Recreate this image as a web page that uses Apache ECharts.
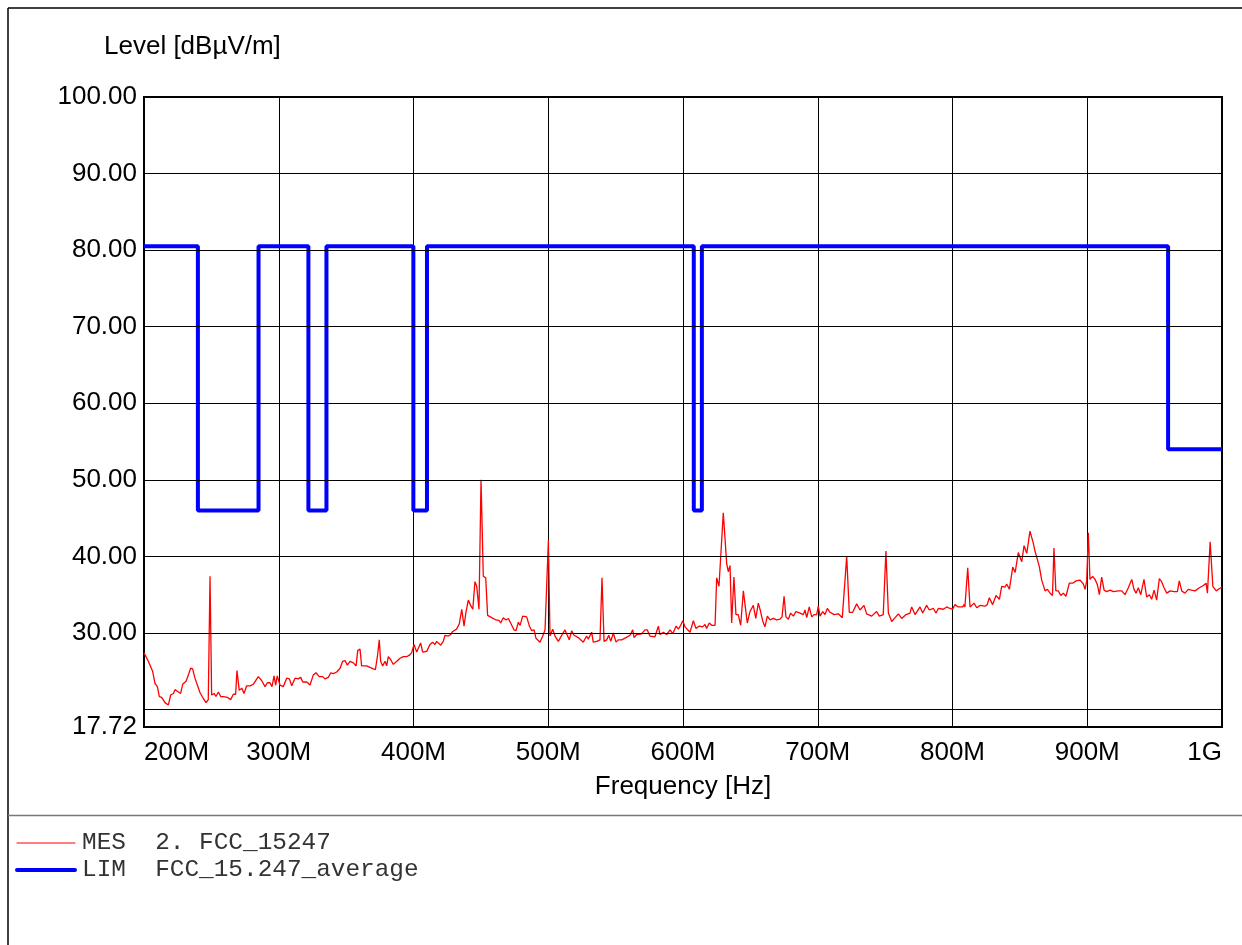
<!DOCTYPE html>
<html>
<head>
<meta charset="utf-8">
<script src="https://cdn.jsdelivr.net/npm/echarts@6/dist/echarts.min.js"></script>
<style>
html,body{margin:0;padding:0;background:#fff;}
#chart{width:1242px;height:945px;}
</style>
</head>
<body>
<div id="chart"></div>
<script>
// Measurement trace (MHz, dBµV/m)
const mesFreq = [200,203.2,206.4,208.2,209.9,211.4,213.1,215.6,218.1,219.8,221.8,223,224.7,227.2,228.7,231.2,232.9,234.6,236.1,237.8,239.6,241.6,243.5,246,247.7,249,250.2,252,253.4,255.2,256.9,258.9,261.8,264.3,266.3,268,269,270.7,272.5,274.2,276.2,278.7,281.1,284.8,287.3,289.8,291.5,293.5,295,296.5,297.7,298.9,300.9,303.4,305.9,307.9,309.6,312.1,314.5,316.3,317.8,320.8,323.2,325.6,327.6,330.1,332.6,334.3,336.8,338.6,340.6,343,345.5,347.4,349.2,350.9,352.9,355.4,357.4,358.6,360.3,361.5,363.2,365.2,367.7,370.2,371.7,373.2,374.6,375.6,377.1,378.9,380.1,381.3,383.1,385,387.6,390,392.4,394.9,396.9,398.6,400.4,
402.4,405.3,406.8,409.8,412.2,414.2,415.9,417.2,420.2,422.1,423.4,425.8,427.5,429.1,430.4,432,434,435.8,437.5,439,440.7,442.4,444,445.6,446.9,448.6,450.1,451.8,453.6,455,458,461.2,463.7,464.7,466.6,468.6,470.4,472.1,474.6,476.1,477.8,479.1,481,484,486,487.7,489.5,490.9,493.9,495.9,497.6,498.9,500.1,501.3,503.3,505,507.5,510,512.4,513.6,515.6,517.4,519.1,522.3,526,528.5,529.7,532.2,533.4,536,538.4,539.9,541.4,543.4,544.9,546.4,548.3,550.3,552,554.5,557.7,560.7,562.7,563.7,565.6,569.3,571.8,573.5,575.5,579.2,581.7,582.9,585.4,587.9,590.4,592.4,594.9,596.5,598.3,599.8,601.5,
605.2,607.7,609.6,612.1,614.6,616.3,617.5,619.5,621.3,623.8,625,626.7,629.9,632.4,633.6,634.9,636.1,637.8,639.3,641,642.8,644.8,646,647.7,649.7,652.2,654,655.9,657.6,659.1,660.8,662.6,664.6,667,669.5,672,673.5,675,676.4,678.2,679.9,681.9,683.9,686.8,689.3,690.5,691.8,693.7,695.5,697.2,699.2,700.4,701.7,703.7,705.4,707.1,709.1,712.1,715.3,718.2,721.5,723.4,725.9,728.9,731.4,734.3,736.3,740,743.7,745.7,748.6,750.6,752.4,754.9,757.4,759.8,762.3,765.5,768.5,769.7,772.2,775.9,777.9,780.8,782.8,785.8,787.8,789.5,793.2,795.7,798.1,
800.1,801.8,804.3,807.6,808.4,809.2,811.3,813,816,818,820.4,824.1,825.8,827.3,829.8,832.3,834.8,836.5,839,840.2,842.2,844.7,846.5,848.8,851.4,853.1,855.1,857.5,860,861.2,862.5,864.4,866.2,868.7,870.4,872.4,874.2,875.3,876.7,878.5,880.3,882.2,884.2,886.7,889.2,891.7,894.7,897.1,898.4,899.6,900.8,902,904,905.8,907.5,909,910.7,912.5,914.4,916.9,919.4,923.1,925.6,928,930.5,933,934.7,936.2,937.9,939.7,942.1,944.1,946.1,947.8,949.6,951.5,953.5,955.2,957,959,961.5,964.4,966.9,968.3,970.1,972.5,975,977.4,980,983.2,986.2,988.2,989.2,991.2,993.2,995.7,997.4,999.1,1000];
const mesLevel = [27.4,26.3,25.0,23.4,23.0,21.7,21.6,20.9,20.6,21.9,22.1,22.6,22.4,22.1,23.3,23.7,24.5,25.4,25.3,24.1,23.2,22.2,21.6,20.9,21.3,37.4,21.9,22.1,21.7,22.3,21.7,21.7,21.6,21.3,22.0,22.0,25.1,22.5,22.8,22.1,23.1,23.1,23.3,24.3,23.8,23.0,23.5,23.5,23.0,24.4,23.2,24.4,23.2,23.0,24.1,24.0,23.1,24.1,24.0,24.2,23.6,23.6,23.2,24.5,24.8,24.3,24.3,24.0,24.2,24.8,24.7,24.9,25.4,26.3,26.4,25.8,26.3,26.1,25.7,27.7,27.9,25.7,25.7,25.7,25.5,25.3,25.2,26.9,29.1,26.3,25.7,26.3,25.7,26.9,26.5,25.9,26.3,26.7,26.9,26.9,27.1,27.4,28.5,
27.5,28.7,27.5,27.6,28.5,28.8,28.5,28.9,28.4,28.9,29.7,29.6,29.8,30.2,30.0,30.5,31.2,33.1,30.9,32.8,34.3,33.6,33.1,36.7,36.1,33.1,50.0,37.4,37.2,32.3,32.0,31.7,31.6,31.3,32.0,31.7,31.9,31.3,30.4,30.3,31.4,31.0,32.2,32.1,30.9,30.3,30.4,29.3,28.8,29.6,30.4,30.4,42.1,29.6,30.5,29.6,28.9,29.7,30.4,30.4,29.1,30.3,29.7,29.4,28.8,29.6,29.2,30.1,28.8,28.9,29.1,37.2,28.9,29.1,29.7,28.9,30.0,28.8,29.1,29.1,29.4,29.7,30.4,29.4,29.8,29.9,30.4,30.4,29.6,29.5,30.9,29.8,30.1,29.8,30.4,29.9,30.9,30.5,31.0,31.6,30.8,
30.1,31.6,30.6,30.9,30.8,31.1,30.6,31.3,31.0,31.0,37.2,36.1,45.7,39.1,38.0,38.8,31.3,37.3,32.4,32.4,31.0,35.5,35.6,31.3,32.8,33.6,31.9,33.9,32.8,31.6,30.8,32.2,31.7,31.9,31.7,31.8,32.1,34.8,32.1,31.8,32.6,32.2,32.8,32.6,32.4,33.0,32.0,33.4,32.1,32.4,32.4,33.5,32.2,32.8,32.4,33.2,32.7,32.4,32.5,32.0,40.0,32.7,32.7,33.8,33.0,33.6,32.5,32.2,32.8,32.2,32.4,40.7,32.6,31.5,32.0,32.5,31.9,32.4,32.6,33.4,32.4,33.4,32.6,33.6,33.0,33.2,32.6,33.2,33.1,33.4,33.2,
33.1,33.7,33.4,33.4,33.7,33.4,38.5,33.4,33.9,33.3,33.6,33.5,33.7,34.6,33.7,34.9,34.4,36.1,36.0,36.4,35.7,38.6,37.9,40.5,39.3,41.4,40.4,43.3,41.7,40.7,40.8,38.7,36.9,35.5,35.7,35.2,34.9,41.1,35.5,35.5,34.9,35.2,34.8,36.5,36.5,36.8,36.9,36.4,35.7,36.8,43.1,37.0,37.4,37.0,36.3,35.0,37.3,35.6,35.4,35.6,35.4,35.5,35.5,35.0,35.9,37.0,35.7,35.2,35.9,35.0,37.0,34.7,35.0,34.4,35.6,34.3,37.1,36.7,35.9,35.2,35.5,35.4,35.4,36.8,35.5,35.2,35.7,35.6,35.5,35.9,36.2,36.5,35.2,41.9,36.1,35.5,35.7,35.9,36.0];

// Limit line FCC 15.247 average (MHz, dBµV/m)
const limFreq  = [200,240,240,285,285,322,322,335.4,335.4,399.9,399.9,410,410,608,608,614,614,960,960,1000];
const limLevel = [80.5,80.5,46,46,80.5,80.5,46,46,80.5,80.5,46,46,80.5,80.5,46,46,80.5,80.5,54,54];

// Axes
const xMin = 200, xMax = 1000, xStep = 100;
const yMin = 17.72, yMax = 100;
const yLabelValues = [17.72,30,40,50,60,70,80,90,100];
const yGridValues = [20,30,40,50,60,70,80,90];

const legendRows = [
  {text: 'MES  2. FCC_15247', color: '#ff0000', width: 1.2},
  {text: 'LIM  FCC_15.247_average', color: '#0000ff', width: 4}
];

const SANS = '"Liberation Sans", Arial, sans-serif';
const chart = echarts.init(document.getElementById('chart'));
const mesData = mesFreq.map((f, i) => [f, mesLevel[i]]);
const limData = limFreq.map((f, i) => [f, limLevel[i]]);

const graphics = [
  {type:'line', shape:{x1:8,y1:8,x2:1242,y2:8}, style:{stroke:'#000',lineWidth:1.5}, silent:true},
  {type:'line', shape:{x1:8,y1:8,x2:8,y2:945}, style:{stroke:'#000',lineWidth:1.5}, silent:true},
  {type:'line', shape:{x1:8,y1:815.5,x2:1242,y2:815.5}, style:{stroke:'#777',lineWidth:1.5}, silent:true},
  {type:'text', x:104, y:47, style:{text:'Level [dBµV/m]', font:'26px ' + SANS, fill:'#000', textVerticalAlign:'middle'}, silent:true},
  {type:'text', x:683, y:787, style:{text:'Frequency [Hz]', font:'26px ' + SANS, fill:'#000', textAlign:'center', textVerticalAlign:'middle'}, silent:true}
];
legendRows.forEach((r, i) => {
  const y = 843 + i * 27;
  graphics.push({type:'line', shape:{x1:17,y1:y,x2:75,y2:y}, style:{stroke:r.color,lineWidth:r.width,lineCap:'round'}, silent:true});
  graphics.push({type:'text', x:82, y:y, style:{text:r.text, font:'24.4px "Liberation Mono", "Courier New", monospace', fill:'#333', textVerticalAlign:'middle'}, silent:true});
});

chart.setOption({
  animation: false,
  backgroundColor: '#fff',
  grid: {left:144, right:20, top:97, bottom:218, show:true, borderColor:'#000', borderWidth:2, backgroundColor:'transparent'},
  xAxis: {
    type:'value', min:xMin, max:xMax, interval:xStep,
    axisLine:{show:false}, axisTick:{show:false},
    splitLine:{show:true, lineStyle:{color:'#000', width:1}},
    axisLabel:{
      margin:13, color:'#000', fontSize:26, fontFamily:SANS,
      alignMinLabel:'left', alignMaxLabel:'right',
      formatter: v => v >= 1000 ? (v/1000) + 'G' : v + 'M'
    }
  },
  yAxis: {
    type:'value', min:yMin, max:yMax,
    axisLine:{show:false}, axisTick:{show:false},
    splitLine:{show:false},
    axisLabel:{
      customValues: yLabelValues, margin:7, color:'#000', fontSize:26,
      fontFamily:SANS,
      formatter: v => Number(v).toFixed(2)
    }
  },
  graphic: graphics,
  series: [
    {
      type:'line', data:[], z:1, silent:true,
      markLine:{silent:true, symbol:['none','none'], label:{show:false}, animation:false,
        lineStyle:{color:'#000', width:1, type:'solid'},
        data: yGridValues.map(v => ({yAxis:v}))}
    },
    {
      name:'LIM', type:'line', data:limData, z:3, symbol:'none', silent:true,
      lineStyle:{color:'#0000ff', width:4}
    },
    {
      name:'MES', type:'line', data:mesData, z:4, symbol:'none', silent:true,
      lineStyle:{color:'#ff0000', width:1.3}
    }
  ]
});
</script>
</body>
</html>
